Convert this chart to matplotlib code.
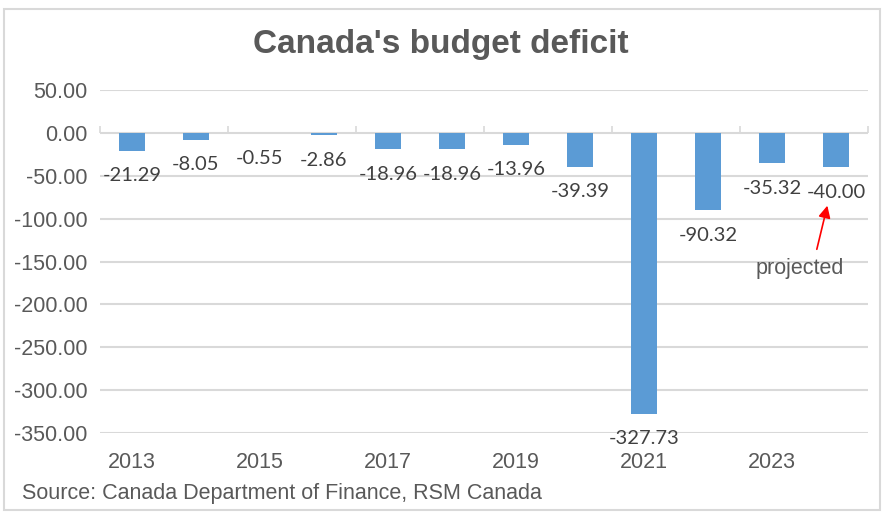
import matplotlib.pyplot as plt
from matplotlib.patches import Rectangle

years = [2013, 2014, 2015, 2016, 2017, 2018, 2019, 2020, 2021, 2022, 2023, 2024]
deficit = [-21.29, -8.05, -0.55, -2.86, -18.96, -18.96, -13.96, -39.39, -327.73, -90.32, -35.32, -40.00]
year_labels = ["2013", "2015", "2017", "2019", "2021", "2023"]
y_ticks = [50, 0, -50, -100, -150, -200, -250, -300, -350]

bar_color = "#5B9BD5"
grid_color = "#D9D9D9"
text_gray = "#595959"

plt.rcParams["font.family"] = ["Liberation Sans", "DejaVu Sans"]

fig = plt.figure(figsize=(8.87, 5.17), dpi=100)
ax = fig.add_axes([100 / 887, 1 - 433 / 517, 768 / 887, 343 / 517])

x = list(range(len(years)))
ax.bar(x, deficit, width=0.41, color=bar_color, zorder=3)

ymin, ymax = -350, 50
ax.set_ylim(ymin, ymax)
ax.set_xlim(-0.5, len(years) - 0.5)

ax.set_yticks(y_ticks)
ax.set_yticklabels([f"{v:.2f}" for v in y_ticks])
ax.yaxis.grid(True, color=grid_color, linewidth=1.5, zorder=0)
ax.set_xticks(x[::2])
ax.set_xticklabels(year_labels)
ax.tick_params(axis="both", length=0, labelsize=15.5, colors=text_gray)
ax.tick_params(axis="x", pad=14)
ax.tick_params(axis="y", pad=9)
for s in ax.spines.values():
    s.set_visible(False)

# zero line with category tick marks
sec = ax.secondary_xaxis((0 - ymin) / (ymax - ymin))
sec.set_xticks([i - 0.5 for i in x[::2]] + [len(years) - 0.5])
sec.set_xticklabels([])
sec.tick_params(length=5, width=1.2, color=grid_color, direction="out")
sec.spines["bottom"].set_color(grid_color)
sec.spines["bottom"].set_linewidth(1.5)
sec.spines["top"].set_visible(False)

# data labels below bars
for i, v in enumerate(deficit):
    ax.text(i, v - 29, f"{v:.2f}", ha="center", va="center", fontsize=14.5,
            family=["Lato", "DejaVu Sans"], color="#404040", zorder=4)

ax.annotate("", xy=(10.875, -81.7), xytext=(10.69, -138.9),
            arrowprops=dict(arrowstyle="-|>", color="red", lw=1.2, mutation_scale=18))
ax.text(10.44, -158.7, "projected", ha="center", va="center", fontsize=15.5, color=text_gray)

fig.text(0.4965, 1 - 45 / 517, "Canada's budget deficit", ha="center", va="center",
         fontsize=24, fontweight="bold", color=text_gray)
fig.text(22 / 887, 1 - 493 / 517, "Source: Canada Department of Finance, RSM Canada",
         ha="left", va="center", fontsize=15.5, color=text_gray)

fig.patches.append(Rectangle((4 / 887, 7 / 517), 876 / 887, 501 / 517, transform=fig.transFigure,
                             fill=False, edgecolor=grid_color, linewidth=1.5))

fig.savefig("out.png", dpi=100)
